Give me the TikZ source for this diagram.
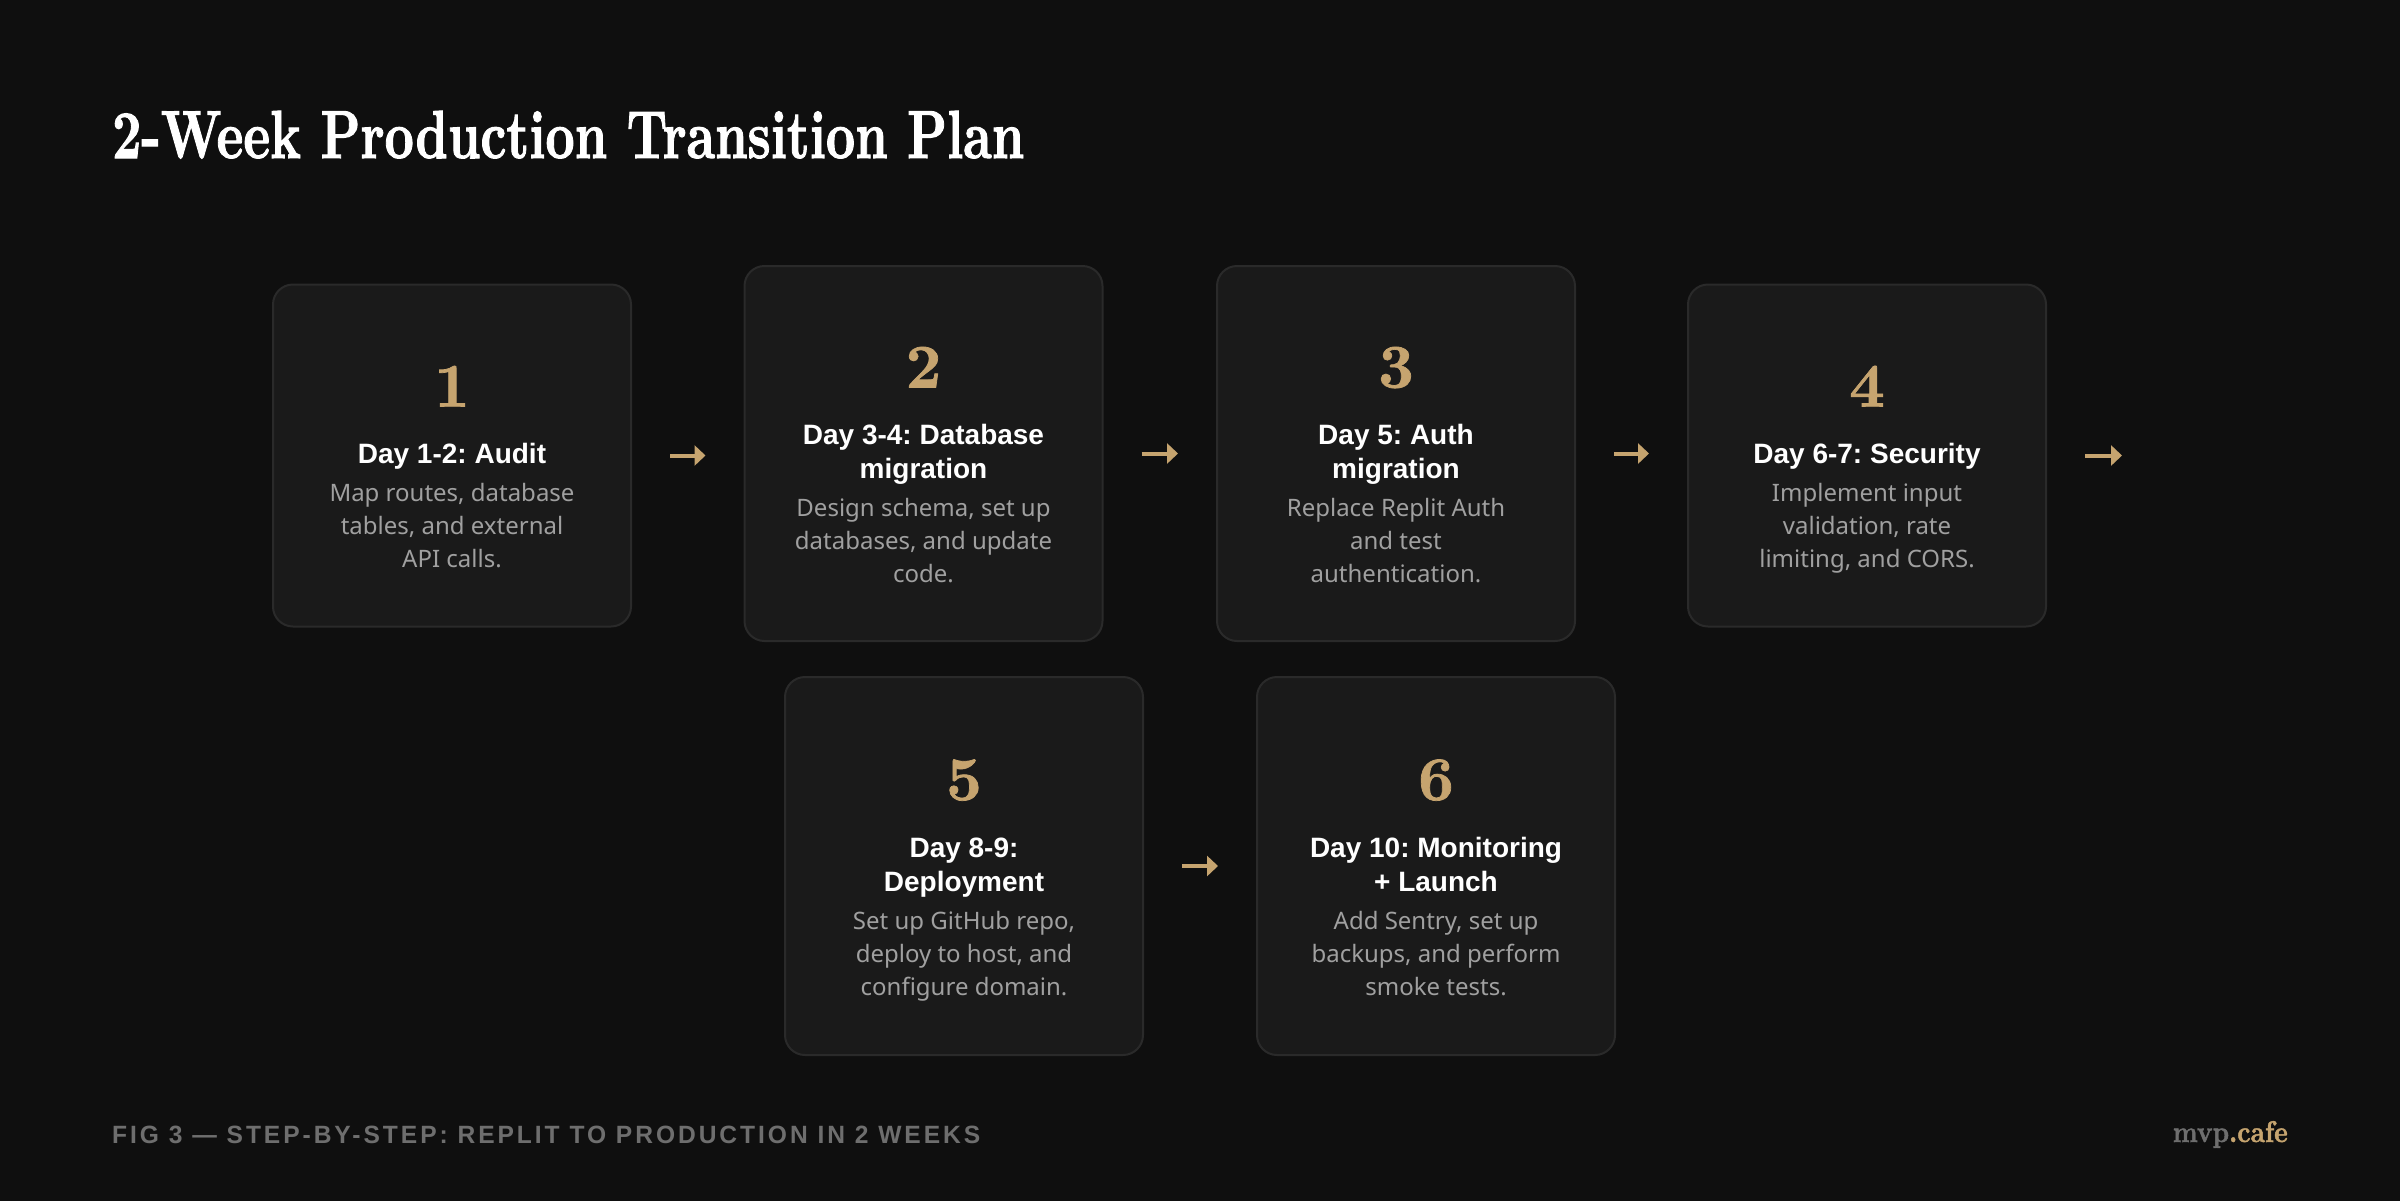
\documentclass[tikz,border=0pt]{standalone}
\usepackage{fontspec}
\setmainfont{Noto Sans}
\newfontfamily\headsans{Liberation Sans}
\newfontfamily\titleserif{lmroman10-bold.otf}[FakeBold=1.6]
\newfontfamily\digitserif{lmroman10-bold.otf}[FakeBold=1.2]
\usetikzlibrary{arrows.meta}
\definecolor{bgc}{HTML}{0F0F0F}
\definecolor{cardfill}{HTML}{1A1A1A}
\definecolor{cardline}{HTML}{2A2A2A}
\definecolor{gold}{HTML}{C6A46F}
\definecolor{desc}{HTML}{A0A0A0}
\definecolor{foot}{HTML}{6E6E6E}
\tikzset{
  card/.style={draw=cardline, line width=2pt, fill=cardfill, rounded corners=20pt,
    minimum width=358pt, inner sep=0pt},
  numtxt/.style={inner sep=0pt, text=gold, font=\digitserif\fontsize{62}{62}\selectfont},
  ttltxt/.style={inner sep=0pt, text=white, font=\headsans\bfseries\fontsize{28}{30}\selectfont},
  desctxt/.style={inner sep=0pt, text=desc, font=\fontsize{24}{28}\selectfont},
  arr/.style={draw=gold, line width=4pt, -{Triangle[length=11pt,width=20pt]},
    shorten <=38pt, shorten >=38pt}
}
% name, cx, cy, height, number, titles, descs, shift
\newcommand\card[8]{%
  \node[card, minimum height=#4pt] (#1) at (#2,#3) {};
  \node[numtxt, anchor=base] (#1-n) at (#2, #3-69-#8+20) {#5};
  \foreach \t [count=\i from 0] in {#6}
    \node[ttltxt, anchor=base] (#1-t\i) at (#2, #3-2-#8+34*\i+10) {\t};
  \foreach \d [count=\j from 0] in {#7}
    \node[desctxt, anchor=base] (#1-d\j) at (#2, #3+38+#8+33*\j+8) {\d};
}
\begin{document}
\frenchspacing
\begin{tikzpicture}[x=1pt,y=-1pt]
\useasboundingbox (0,0) rectangle (2400,1200);
\fill[bgc] (-10,-10) rectangle (2410,1210);

\node[anchor=base west, inner sep=0pt, text=white] (title) at (112,158)
  {\resizebox{912pt}{\height}{\titleserif\fontsize{68}{68}\selectfont 2-Week Production Transition Plan}};

\card{b1}{452}{455.5}{342}{1}{Day 1-2: Audit}{{Map routes, database},{tables, and external},{API calls.}}{0}
\card{b2}{923.5}{453.5}{375}{2}{{Day 3-4: Database},{migration}}{{Design schema, set up},{databases, and update},{code.}}{17}
\card{b3}{1396}{453.5}{375}{3}{{Day 5: Auth},{migration}}{{Replace Replit Auth},{and test},{authentication.}}{17}
\card{b4}{1867}{455.5}{342}{4}{Day 6-7: Security}{{Implement input},{validation, rate},{limiting, and CORS.}}{0}
\card{b5}{964}{866}{378}{5}{{Day 8-9:},{Deployment}}{{Set up GitHub repo,},{deploy to host, and},{configure domain.}}{17}
\card{b6}{1436}{866}{378}{6}{{Day 10: Monitoring},{+ Launch}}{{Add Sentry, set up},{backups, and perform},{smoke tests.}}{17}

\coordinate (next) at (2160,455.5);
\draw[arr] (b1.east) -- (b1.east -| b2.west);
\draw[arr] (b2.east) -- (b2.east -| b3.west);
\draw[arr] (b3.east) -- (b3.east -| b4.west);
\draw[arr] (b4.east) -- (next);
\draw[arr] (b5.east) -- (b5.east -| b6.west);

\node[anchor=base west, inner sep=0pt, text=foot] (footer) at (112,1143)
  {\resizebox{868pt}{\height}{\headsans\bfseries\fontsize{25}{25}\selectfont\addfontfeatures{LetterSpace=12}FIG 3 — STEP-BY-STEP: REPLIT TO PRODUCTION IN 2 WEEKS}};
\node[anchor=base east, inner sep=0pt] (logo) at (2288,1142)
  {\resizebox{115pt}{\height}{\titleserif\fontsize{30}{30}\selectfont\textcolor{foot}{mvp}\textcolor{gold}{.cafe}}};
\end{tikzpicture}
\end{document}
